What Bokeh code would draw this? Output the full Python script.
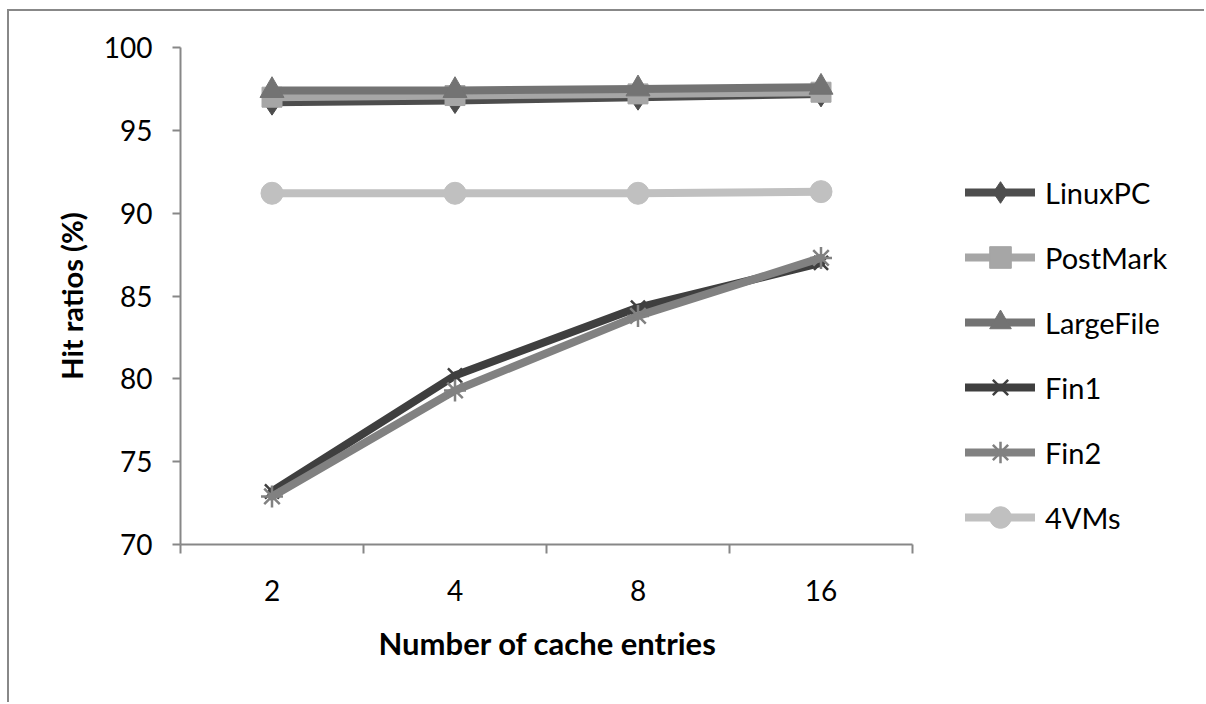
from bokeh.plotting import figure
from bokeh.models import FixedTicker, Legend, LegendItem, Range1d, Title
from bokeh.embed import file_html
from bokeh.resources import INLINE

categories = ["2", "4", "8", "16"]
linuxpc = [96.7, 96.8, 97.0, 97.2]
postmark = [97.0, 97.1, 97.2, 97.3]
largefile = [97.4, 97.4, 97.5, 97.6]
fin1 = [73.2, 80.2, 84.3, 87.0]
fin2 = [72.9, 79.3, 83.8, 87.3]
vms4 = [91.2, 91.2, 91.2, 91.3]
y_ticks = [70, 75, 80, 85, 90, 95, 100]

FONT = "Lato"
AX = "#878787"

n = len(categories)
xs = [i + 0.5 for i in range(n)]

W, H = 1197, 693
BL, BT, BB = 171, 36, 160
FRAME_W = W - BL
AXIS_PX = 732  # pixel length of the category axis
x_end = n * FRAME_W / AXIS_PX

p = figure(width=W, height=H, output_backend="svg", toolbar_location=None,
           x_range=Range1d(0, x_end), y_range=Range1d(70, 100),
           min_border_left=BL, min_border_top=BT, min_border_right=0,
           min_border_bottom=BB)
p.styles = {"margin-left": "7px", "margin-top": "9px",
            "border-left": "2px solid #888888", "border-top": "2px solid #888888"}
p.outline_line_color = None
p.grid.visible = False
p.background_fill_color = "white"
p.border_fill_color = "white"

series = [
    ("LinuxPC", linuxpc, "#4d4d4d", "diamond", 26),
    ("PostMark", postmark, "#a6a6a6", "square", 20),
    ("LargeFile", largefile, "#737373", "triangle", 24),
    ("Fin1", fin1, "#3f3f3f", "x", 20),
    ("Fin2", fin2, "#818181", "asterisk", 22),
    ("4VMs", vms4, "#c0c0c0", "circle", 22),
]

items = []
for name, ys, col, mk, sz in series:
    r1 = p.line(xs, ys, line_color=col, line_width=8, line_cap="round", line_join="round")
    if mk in ("x", "asterisk"):
        r2 = p.scatter(xs, ys, marker=mk, size=sz, line_color=col, line_width=2.5)
    else:
        r2 = p.scatter(xs, ys, marker=mk, size=sz, fill_color=col, line_color=col)
    items.append(LegendItem(label=name, renderers=[r1, r2]))

legend = Legend(items=items, location=(785, 0), orientation="vertical")
legend.glyph_width = 70
legend.glyph_height = 54
legend.label_height = 54
legend.label_standoff = 10
legend.spacing = 11
legend.padding = 0
legend.margin = 0
legend.border_line_color = None
legend.background_fill_alpha = 0
legend.label_text_font = FONT
legend.label_text_font_size = "29px"
legend.label_text_color = "black"
p.add_layout(legend, "center")

# y axis
p.yaxis.ticker = FixedTicker(ticks=y_ticks)
p.yaxis.axis_line_color = AX
p.yaxis.axis_line_width = 2
p.yaxis.major_tick_line_color = AX
p.yaxis.major_tick_line_width = 2
p.yaxis.major_tick_out = 8
p.yaxis.major_tick_in = 0
p.yaxis.minor_tick_line_color = None
p.yaxis.major_label_standoff = 20
p.yaxis.major_label_text_font = FONT
p.yaxis.major_label_text_font_size = "28px"
p.yaxis.major_label_text_color = "black"
p.yaxis.axis_label = "Hit ratios (%)"
p.yaxis.axis_label_text_font = FONT
p.yaxis.axis_label_text_font_style = "bold"
p.yaxis.axis_label_text_font_size = "29px"
p.yaxis.axis_label_text_color = "black"
p.yaxis.axis_label_standoff = 12

# x axis: labels at category centers, tick marks between categories
p.xaxis.bounds = (0, n)
p.xaxis.ticker = FixedTicker(ticks=xs, minor_ticks=list(range(n + 1)))
p.xaxis.major_label_overrides = {x: c for x, c in zip(xs, categories)}
p.xaxis.axis_line_color = AX
p.xaxis.axis_line_width = 2
p.xaxis.major_tick_line_color = None
p.xaxis.major_tick_out = 0
p.xaxis.major_tick_in = 0
p.xaxis.minor_tick_line_color = AX
p.xaxis.minor_tick_line_width = 2
p.xaxis.minor_tick_out = 9
p.xaxis.minor_tick_in = 0
p.xaxis.major_label_standoff = 26
p.xaxis.major_label_text_font = FONT
p.xaxis.major_label_text_font_size = "28px"
p.xaxis.major_label_text_color = "black"

# x axis title, placed under the middle of the category axis
xtitle = Title(text="Number of cache entries", align="left", offset=198,
               text_font=FONT, text_font_style="bold", text_font_size="31px",
               text_color="black", standoff=36)
p.add_layout(xtitle, "below")

open("out.html", "w").write(file_html(p, INLINE))
